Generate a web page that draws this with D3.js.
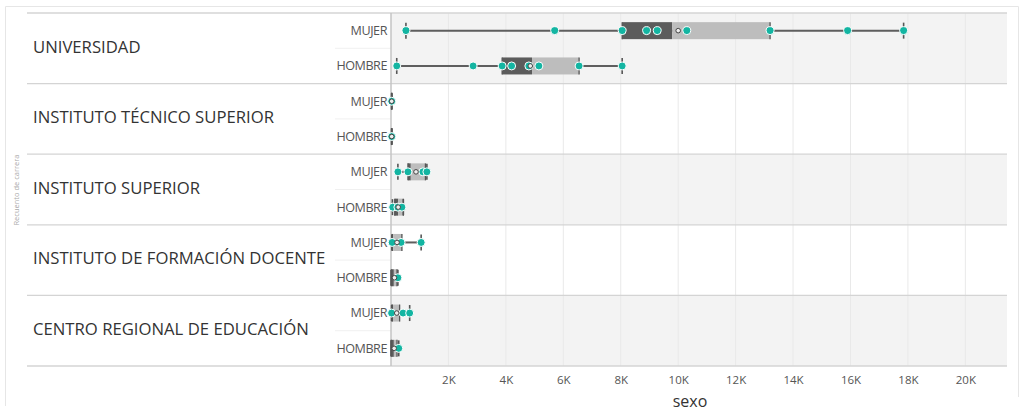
<!DOCTYPE html>
<html><head><meta charset="utf-8">
<script src="https://cdn.jsdelivr.net/npm/d3@7"></script>
<style>
html,body{margin:0;padding:0;background:#fff;}
svg{display:block;font-family:"Open Sans","Noto Sans",sans-serif;}
</style></head>
<body>
<svg id="chart" width="1026" height="411"></svg>
<script>
const categories = ["UNIVERSIDAD","INSTITUTO TÉCNICO SUPERIOR","INSTITUTO SUPERIOR","INSTITUTO DE FORMACIÓN DOCENTE","CENTRO REGIONAL DE EDUCACIÓN"];
const sexes = ["MUJER","HOMBRE"];
const xTicks = [2000,4000,6000,8000,10000,12000,14000,16000,18000,20000];
// values per category: [MUJER, HOMBRE]
const minVals    = [[520,200],[20,20],[240,50],[30,0],[20,0]];
const q1Vals     = [[8050,3870],[20,20],[590,130],[40,20],[30,10]];
const medianVals = [[9790,4910],[20,20],[690,250],[80,100],[70,100]];
const q3Vals     = [[13200,6550],[30,30],[1200,430],[380,210],[300,210]];
const maxVals    = [[17850,8050],[30,30],[1250,430],[1050,240],[650,270]];
const meanVals   = [[10000,4850],[25,25],[870,250],[210,120],[200,110]];
const pointVals  = [
  [[520,5700,8050,8900,9270,10300,13200,15900,17850],[200,2860,3870,4200,4800,5150,6550,8050]],
  [[25],[25]],
  [[240,590,1110,1250],[60,240,380]],
  [[40,350,1050],[240]],
  [[20,420,650],[270]]
];

const svg = d3.select("#chart");
const plotL = 391, plotR = 1007, plotT = 13, plotB = 366;
const x = d3.scaleLinear().domain([0,21450]).range([plotL, plotR]);
const yCat = d3.scaleBand().domain(categories).range([plotT, plotB]);
const ySub = d3.scaleBand().domain(sexes).range([0, yCat.bandwidth()]);

// outer frame
svg.append("path").attr("d","M5.5,406V6.5H1018.5V397").attr("fill","none").attr("stroke","#e6e6e6");

// band backgrounds
svg.selectAll("rect.band").data(categories).enter().append("rect")
  .attr("x", plotL).attr("y", d=>yCat(d)).attr("width", plotR-plotL).attr("height", yCat.bandwidth())
  .attr("fill",(d,i)=> i%2===0 ? "#f3f3f3" : "#ffffff");

// vertical gridlines
svg.selectAll("line.grid").data(xTicks).enter().append("line")
  .attr("x1",d=>x(d)).attr("x2",d=>x(d)).attr("y1",plotT).attr("y2",plotB)
  .attr("stroke","#e9e9e9").attr("stroke-width",1);

// sub separators in label area
categories.forEach(c=>{
  svg.append("line").attr("x1",335).attr("x2",plotL).attr("y1",yCat(c)+yCat.bandwidth()/2).attr("y2",yCat(c)+yCat.bandwidth()/2)
    .attr("stroke","#f0f0f0");
});

// band separators
const seps = categories.map(c=>yCat(c)).concat([plotB]);
svg.selectAll("line.sep").data(seps).enter().append("line")
  .attr("x1",27).attr("x2",plotR).attr("y1",d=>d).attr("y2",d=>d)
  .attr("stroke","#d4d4d4").attr("stroke-width",1.3);

// y axis line
svg.append("line").attr("x1",plotL).attr("x2",plotL).attr("y1",plotT).attr("y2",plotB).attr("stroke","#c4c4c4").attr("stroke-width",1.5);

// category labels
svg.selectAll("text.cat").data(categories).enter().append("text")
  .attr("x",33).attr("y",d=>yCat(d)+yCat.bandwidth()/2-1.5).attr("dy","0.35em")
  .attr("font-size",16.7).attr("fill","#333").text(d=>d);

// sub labels
categories.forEach(c=>{
  sexes.forEach(s=>{
    svg.append("text").attr("x",387).attr("y",yCat(c)+ySub(s)+ySub.bandwidth()/2).attr("dy","0.35em")
      .attr("text-anchor","end").attr("font-size",12.6).attr("fill","#555").attr("letter-spacing","-0.45").text(s);
  });
});

// x axis
const xAxis = d3.axisBottom(x).tickValues(xTicks).tickFormat(d=>(d/1000)+"K").tickSize(0).tickPadding(10);
const gx = svg.append("g").attr("transform",`translate(0,${plotB})`).call(xAxis);
gx.select(".domain").remove();
gx.selectAll("text").attr("font-size",11.5).attr("fill","#555").attr("font-family","Open Sans, sans-serif");

svg.append("text").attr("x",690).attr("y",407).attr("text-anchor","middle").attr("font-size",16).attr("fill","#333").text("sexo");
svg.append("text").attr("transform","translate(19,190) rotate(-90)").attr("text-anchor","middle").attr("font-size",7.5).attr("fill","#aaa").text("Recuento de carrera");

// boxes
const boxH = 17, capH = 16;
categories.forEach((c,ci)=>{
  sexes.forEach((s,si)=>{
    const cy = yCat(c)+ySub(s)+ySub.bandwidth()/2;
    const g = svg.append("g");
    g.append("line").attr("x1",x(minVals[ci][si])).attr("x2",x(maxVals[ci][si])).attr("y1",cy).attr("y2",cy)
      .attr("stroke","#5e5e5e").attr("stroke-width",2);
    g.append("rect").attr("x",x(q1Vals[ci][si])).attr("y",cy-boxH/2).attr("width",x(medianVals[ci][si])-x(q1Vals[ci][si])).attr("height",boxH).attr("fill","#5c5c5c");
    g.append("rect").attr("x",x(medianVals[ci][si])).attr("y",cy-boxH/2).attr("width",x(q3Vals[ci][si])-x(medianVals[ci][si])).attr("height",boxH).attr("fill","#bdbdbd");
    [q1Vals[ci][si], q3Vals[ci][si]].forEach(v=>{
      g.append("line").attr("x1",x(v)).attr("x2",x(v)).attr("y1",cy-boxH/2).attr("y2",cy+boxH/2).attr("stroke","#555").attr("stroke-width",1.3);
    });
    [minVals[ci][si], maxVals[ci][si]].forEach(v=>{
      g.append("line").attr("x1",x(v)).attr("x2",x(v)).attr("y1",cy-capH/2).attr("y2",cy+capH/2).attr("stroke","#555").attr("stroke-width",1.6);
    });
    g.selectAll("circle.pt").data(pointVals[ci][si]).enter().append("circle")
      .attr("cx",d=>x(d)).attr("cy",cy).attr("r",4).attr("fill","#13b5a2").attr("stroke","#fff").attr("stroke-width",1);
    g.append("circle").attr("cx",x(meanVals[ci][si])).attr("cy",cy).attr("r",2.3).attr("fill","#eee").attr("stroke","#444").attr("stroke-width",1);
  });
});
</script>
</body></html>
